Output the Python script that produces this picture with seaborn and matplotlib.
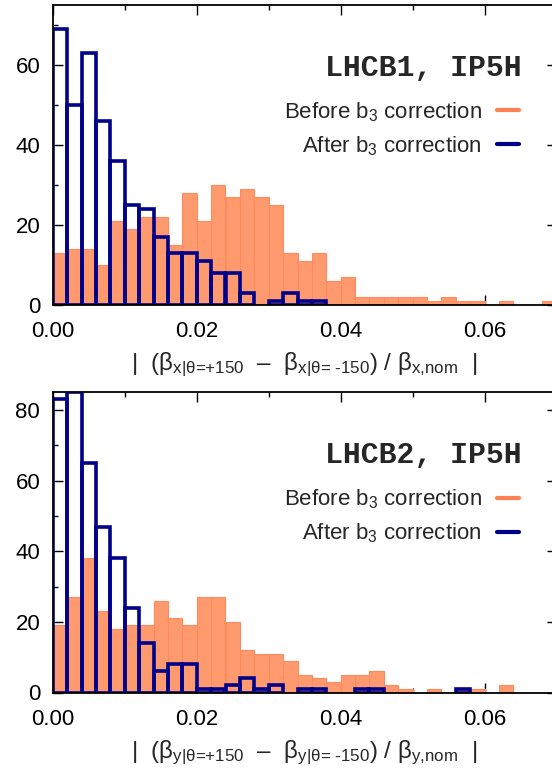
import numpy as np
import pandas as pd
import matplotlib
matplotlib.use("Agg")
import matplotlib.pyplot as plt
import seaborn as sns
from matplotlib.ticker import MultipleLocator, FormatStrFormatter
from matplotlib.lines import Line2D

# ---------------- data ----------------
bin_width = 0.002
n_bins = 35
x_ticks = [0.00, 0.02, 0.04, 0.06]

before_x = [13, 14, 14, 10, 21, 19, 22, 22, 15, 28, 21, 30, 27, 29, 27, 25, 13, 11,
            13, 6, 7, 2, 2, 2, 2, 2, 1, 2, 1, 1, 0, 1, 0, 0, 1]
after_x = [69, 50, 63, 46, 36, 25, 24, 17, 13, 13, 11, 8, 8, 3, 0, 1, 3, 1,
           1, 0, 0, 0, 0, 0, 0, 0, 0, 0, 0, 0, 0, 0, 0, 0, 0]
before_y = [19, 27, 38, 23, 18, 19, 19, 26, 21, 19, 27, 27, 20, 12, 11, 11, 9, 5,
            4, 3, 5, 5, 6, 2, 1, 0, 1, 0, 1, 1, 0, 2, 0, 0, 0]
after_y = [83, 85, 65, 47, 38, 24, 14, 6, 8, 8, 1, 1, 2, 4, 1, 2, 0, 1,
           1, 0, 0, 1, 1, 0, 0, 0, 0, 0, 1, 0, 0, 0, 0, 0, 0]

titles = ["LHCB1, IP5H", "LHCB2, IP5H"]
label_before = r"Before b$_3$ correction"
label_after = r"After b$_3$ correction"
xlabels = [
    r"|  (β$_{\text{x|θ=+150}}$  –  β$_{\text{x|θ= -150}}$) / β$_{\text{x,nom}}$  |",
    r"|  (β$_{\text{y|θ=+150}}$  –  β$_{\text{y|θ= -150}}$) / β$_{\text{y,nom}}$  |",
]
ylims = [75, 85]

# ---------------- style ----------------
sns.set_style("ticks")
plt.rcParams["font.family"] = ["Liberation Sans", "DejaVu Sans"]
plt.rcParams["mathtext.fontset"] = "custom"
plt.rcParams["mathtext.rm"] = "Liberation Sans"
plt.rcParams["mathtext.it"] = "Liberation Sans"
plt.rcParams["mathtext.bf"] = "Liberation Sans:bold"

ORANGE_FILL = "#ff9a6e"
ORANGE_EDGE = "#ff8a5c"
ORANGE_LINE = "#ff8050"
NAVY = "#00008b"

edges = np.linspace(0, n_bins * bin_width, n_bins + 1)
centers = (edges[:-1] + edges[1:]) / 2

fig = plt.figure(figsize=(5.52, 7.70), dpi=100)
W, H = 552.0, 770.0
ax_left, ax_right = 52.7, 556.7
panels = [(4.7, 304.5), (392.3, 692.5)]

datasets = [(before_x, after_x), (before_y, after_y)]

for i, ((top, bot), (bef, aft)) in enumerate(zip(panels, datasets)):
    ax = fig.add_axes([ax_left / W, 1 - bot / H, (ax_right - ax_left) / W, (bot - top) / H])
    df = pd.DataFrame({"x": centers, "before": np.asarray(bef, float),
                       "after": np.asarray(aft, float)})
    sns.histplot(data=df, x="x", weights="before", binwidth=bin_width,
                 binrange=(0, n_bins * bin_width), ax=ax,
                 color=ORANGE_FILL, edgecolor=ORANGE_EDGE, linewidth=0.8,
                 alpha=1.0, fill=True, element="bars")
    sns.histplot(data=df, x="x", weights="after", binwidth=bin_width,
                 binrange=(0, n_bins * bin_width), ax=ax,
                 color=NAVY, edgecolor=NAVY, linewidth=2.6, fill=False,
                 element="bars")
    for p in ax.patches:
        if p.get_height() == 0:
            p.set_visible(False)

    ax.set_xlim(0, 0.07)
    ax.set_ylim(0, ylims[i])
    ax.set_ylabel("")
    ax.set_xlabel(xlabels[i], fontsize=17.4, labelpad=6)
    ax.xaxis.set_major_locator(MultipleLocator(0.02))
    ax.xaxis.set_minor_locator(MultipleLocator(0.01))
    ax.xaxis.set_major_formatter(FormatStrFormatter("%.2f"))
    ax.yaxis.set_major_locator(MultipleLocator(20))
    ax.yaxis.set_minor_locator(MultipleLocator(10))
    ax.tick_params(which="both", direction="in", top=True, right=True, width=1.0,
                   labelsize=16, colors="black")
    ax.tick_params(which="major", length=7.2)
    ax.tick_params(which="minor", length=3.6)
    ax.tick_params(axis="x", pad=12)
    ax.tick_params(axis="y", pad=9)
    for s in ax.spines.values():
        s.set_visible(True)
        s.set_linewidth(1.3)
        s.set_color("black")

    ax.text(0.931, 0.79, titles[i], transform=ax.transAxes, ha="right", va="center",
            fontsize=21.5, fontweight="bold", family=["Liberation Mono", "DejaVu Sans Mono"])

    h1 = Line2D([], [], color=ORANGE_LINE, lw=3)
    h2 = Line2D([], [], color=NAVY, lw=3)
    leg1 = ax.legend([h1], [label_before], loc="center right",
                     bbox_to_anchor=(0.926, 0.643), frameon=False, markerfirst=False,
                     handlelength=1.0, handletextpad=0.7, borderpad=0, borderaxespad=0,
                     fontsize=16)
    ax.add_artist(leg1)
    ax.legend([h2], [label_after], loc="center right",
              bbox_to_anchor=(0.926, 0.529), frameon=False, markerfirst=False,
              handlelength=1.0, handletextpad=0.7, borderpad=0, borderaxespad=0,
              fontsize=16)

fig.savefig("out.png", dpi=100)
